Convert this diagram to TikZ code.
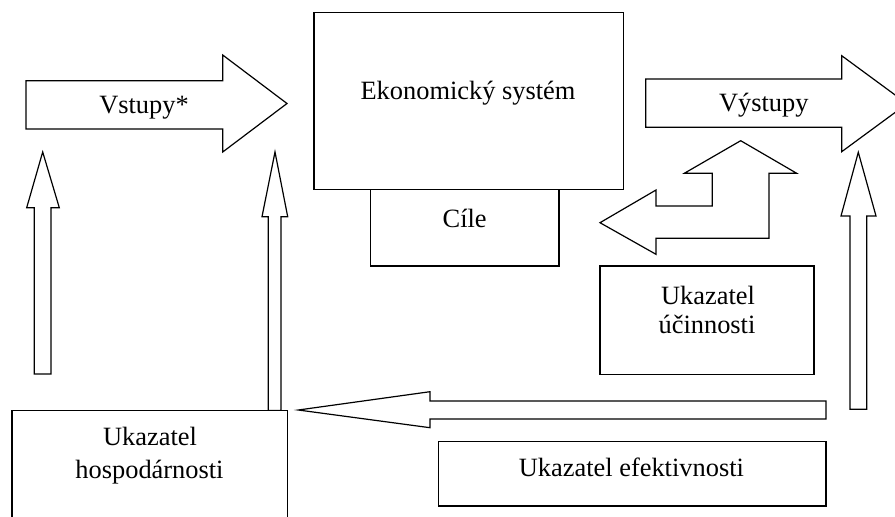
\documentclass[tikz,border=0pt]{standalone}
\usepackage{fontspec}
\setmainfont{Liberation Serif}
\begin{document}
\tikzset{
  blk/.style={draw=black, line width=1.2pt, fill=white, line join=miter},
  lbl/.style={font=\fontsize{26.4}{31}\selectfont, anchor=base, inner sep=0pt, text=black},
}
\begin{tikzpicture}[x=1pt,y=-1pt]
\clip (0,0) rectangle (895,517);
\fill[white] (0,0) rectangle (895,517);

% Ekonomicky system and Cile
\draw[blk] (314,12.7) rectangle (623.3,189.3);
\node[lbl] (eko) at (468,99.3) {Ekonomický systém};
\draw[blk] (370.7,189.3) rectangle (559,266);
\node[lbl] (cile) at (464.7,227) {Cíle};

% Vstupy arrow
\draw[blk] (26,80.7) -- (222.7,80.7) -- (222.7,55) -- (287,103.5) -- (222.7,152) -- (222.7,129) -- (26,129) -- cycle;
\node[lbl] (vstupy) at (144,113.7) {Vstupy*};

% Vystupy arrow
\draw[blk] (645.7,79) -- (841.7,79) -- (841.7,55.7) -- (907,103.7) -- (841.7,151.7) -- (841.7,127.3) -- (645.7,127.3) -- cycle;
\node[lbl] (vystupy) at (763.8,111.7) {Výstupy};

% bent arrow
\draw[blk] (600,222.7) -- (656,190) -- (656,206) -- (712.3,206) -- (712.3,173.3) -- (684.3,173.3) -- (740.7,140.7) -- (796.7,173.3) -- (769,173.3) -- (769,238.3) -- (656,238.3) -- (656,254.3) -- cycle;

% up arrows
\draw[blk] (34.3,374) -- (34.3,207.7) -- (26.7,207.7) -- (42.7,152) -- (59.3,207.7) -- (51,207.7) -- (51,374) -- cycle;
\draw[blk] (268.3,410.5) -- (268.3,216.7) -- (262,216.7) -- (275,152) -- (287.7,216.7) -- (281,216.7) -- (281,410.5) -- cycle;
\draw[blk] (850,409.3) -- (850,216) -- (841,216) -- (858.3,152.3) -- (876,216) -- (866.7,216) -- (866.7,409.3) -- cycle;

% big left arrow
\draw[blk] (826,401) -- (430,401) -- (430,391.7) -- (298.3,410) -- (430,427.7) -- (430,419) -- (826,419) -- cycle;

% Ukazatel hospodarnosti
\draw[blk] (12,410.5) rectangle (287.5,530);
\node[lbl] (hosp1) at (150,445.7) {Ukazatel};
\node[lbl] (hosp2) at (149.5,478.3) {hospodárnosti};

% Ukazatel ucinnosti
\draw[blk] (600,266) rectangle (814,374.3);
\node[lbl] (uc1) at (708,304.3) {Ukazatel};
\node[lbl] (uc2) at (707,333.3) {účinnosti};

% Ukazatel efektivnosti
\draw[blk] (438.3,441.7) rectangle (826,506);
\node[lbl] (ef) at (631.4,476.7) {Ukazatel efektivnosti};
\end{tikzpicture}
\end{document}
